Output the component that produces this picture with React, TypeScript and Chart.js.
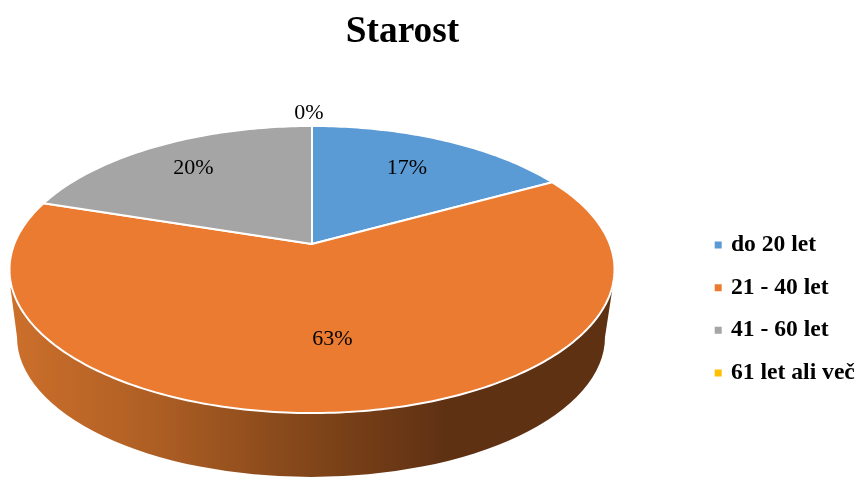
import React, { useEffect, useRef } from "react";
import { Chart, registerables } from "chart.js";

Chart.register(...registerables);

const categories = ["do 20 let", "21 - 40 let", "41 - 60 let", "61 let ali več"];
const shares = [17, 63, 20, 0];
const colors = ["#5B9BD5", "#EB7B30", "#A5A5A5", "#FFC000"];
const labelRadii = [0.7, 0.615, 0.75, 1.13];
const labelShift = [-1, 1, 0, -3];
const FONT = '"Liberation Serif", "Times New Roman", serif';

// Perspective view of the pie's top face
const CX = 312;
const CY = 244;
const A = 297.7;
const B = 139;
const K = 0.1777;

function project(angle: number, r = 1) {
  const u = Math.cos(angle) * r;
  const v = Math.sin(angle) * r;
  const w = 1 - K * v;
  return { x: CX + (A * u) / w, y: CY + (B * v) / w };
}

const pie3d = {
  id: "pie3d",
  afterLayout(chart: any) {
    chart.titleBlock.left -= 26;
    chart.titleBlock.right -= 26;
    const lg = chart.legend;
    lg.left = 698.2;
    lg.right = 857;
    lg.top += 141;
  },
  beforeDatasetsDraw(chart: any) {
    const ctx = chart.ctx;
    const meta = chart.getDatasetMeta(0);

    // side wall
    const grad = ctx.createLinearGradient(12, 0, 612, 0);
    grad.addColorStop(0, "#CC6F2B");
    grad.addColorStop(0.23, "#AF5F24");
    grad.addColorStop(0.48, "#84471A");
    grad.addColorStop(0.72, "#5F3113");
    grad.addColorStop(1, "#5E3113");
    ctx.save();
    ctx.fillStyle = grad;
    ctx.beginPath();
    ctx.moveTo(10.5, 288);
    ctx.lineTo(17, 337);
    ctx.ellipse(311, 337, 294, 140, 0, Math.PI, 0, true);
    ctx.lineTo(612.5, 288);
    ctx.closePath();
    ctx.fill();

    // slices, from the angles the doughnut controller computed
    meta.data.forEach((arc: any) => {
      const { startAngle, endAngle } = arc;
      if (endAngle - startAngle <= 0) return;
      ctx.beginPath();
      ctx.moveTo(CX, CY);
      const steps = Math.max(2, Math.ceil((endAngle - startAngle) * 60));
      for (let s = 0; s <= steps; s++) {
        const p = project(startAngle + ((endAngle - startAngle) * s) / steps);
        ctx.lineTo(p.x, p.y);
      }
      ctx.closePath();
      ctx.fillStyle = arc.options.backgroundColor;
      ctx.fill();
      ctx.strokeStyle = "#FFFFFF";
      ctx.lineWidth = 2;
      ctx.lineJoin = "round";
      ctx.stroke();
    });

    // value labels
    ctx.fillStyle = "#000000";
    ctx.font = `22px ${FONT}`;
    ctx.textAlign = "center";
    ctx.textBaseline = "middle";
    meta.data.forEach((arc: any, i: number) => {
      const p = project((arc.startAngle + arc.endAngle) / 2, labelRadii[i]);
      ctx.fillText(`${shares[i]}%`, p.x + labelShift[i], p.y);
    });
    ctx.restore();
    return false;
  },
};

export default function App() {
  const ref = useRef<HTMLCanvasElement>(null);
  useEffect(() => {
    const chart = new Chart(ref.current!, {
      type: "pie",
      data: {
        labels: categories,
        datasets: [{ data: shares, backgroundColor: colors, borderWidth: 0 }],
      },
      options: {
        animation: false,
        responsive: false,
        plugins: {
          tooltip: { enabled: false },
          title: {
            display: true,
            text: "Starost",
            color: "#000000",
            font: { family: FONT, size: 37.33, weight: "bold" },
            padding: { top: 10, bottom: 20 },
          },
          legend: {
            position: "right",
            labels: {
              usePointStyle: true,
              pointStyle: "rect",
              boxWidth: 2,
              boxHeight: 7,
              padding: 19,
              color: "#000000",
              font: { family: FONT, size: 23.6, weight: "bold" },
            },
          },
        },
      },
      plugins: [pie3d],
    } as any);
    return () => chart.destroy();
  }, []);
  return (
    <div style={{ position: "fixed", left: 0, top: 0, width: 857, height: 477, background: "#fff" }}>
      <canvas ref={ref} width={857} height={477} style={{ display: "block" }} />
    </div>
  );
}
